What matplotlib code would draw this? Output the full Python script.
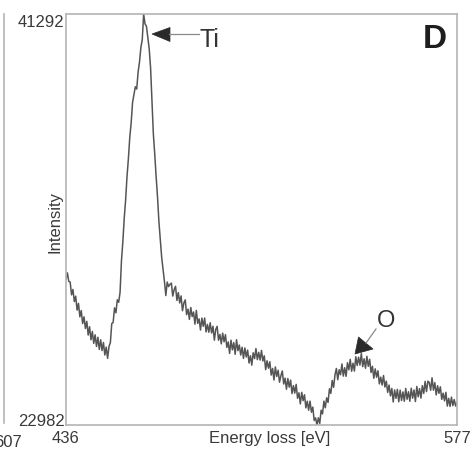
import numpy as np
import matplotlib
matplotlib.use("Agg")
import matplotlib.pyplot as plt
from matplotlib.patches import Polygon
from matplotlib.lines import Line2D

plt.rcParams['font.family'] = ['Liberation Sans', 'DejaVu Sans']

# EELS spectrum: channels every 0.5 eV from 436 to 577 eV
e_start, e_stop, e_step = 436.0, 577.0, 0.5
intensity = [
    29480, 29760, 29380, 29350, 28780, 29020, 28480, 28720, 28100, 28400,
    27800, 28080, 27500, 27800, 27280, 27600, 26990, 27360, 26780, 27150,
    26620, 27000, 26480, 26890, 26350, 26780, 26300, 26660, 26100, 26450,
    25950, 26480, 26650, 27500, 27550, 28200, 27980, 28560, 28450, 28900,
    30300, 31150, 32200, 33000, 34050, 34850, 35800, 36450, 37350, 37700,
    38050, 37950, 38700, 39150, 39800, 40150, 41292, 40850, 40750, 40250,
    39750, 38900, 37450, 35950, 35050, 34050, 33150, 32050, 31250, 30450,
    29900, 29380, 28750, 29350, 29150, 29250,
    29301, 28726, 29015, 29160, 28531, 28880, 28419, 28732, 28073, 28419,
    28555, 27899, 28143, 27685, 28217, 27813, 28015, 27475, 28087, 27511,
    27709, 27211, 27744, 27377, 27748, 27129, 27464, 27115, 27538, 27081,
    27380, 26761, 27240, 27377, 26758, 27019, 26597, 27075, 26689, 27005,
    26439, 26683, 26171, 26761, 26329, 26653, 26131, 26779, 26293, 26545,
    26098, 26446, 25948, 26414, 26010, 26318, 25744, 26069, 25649, 26201,
    25943, 26387, 25895, 26218, 25875, 26304, 25833, 26064, 25449, 25842,
    25515, 25800, 25206, 25501, 24986, 25569, 25144, 25421, 24888, 25183,
    25388, 24808, 25070, 24576, 25054, 24668, 24984, 24382, 24736, 24404,
    24792, 24172, 24416, 23922, 24436, 24068, 24330, 23746, 24044, 23640,
    24046, 23552, 23778, 23184, 23298, 22982, 23302, 23048, 23640, 23476,
    24045, 23750, 24193, 23988, 24593, 24392, 24966, 24658, 25214, 25500,
    25000, 25444, 25222, 25702, 25161, 25533, 25149, 25755, 25443, 25905,
    25377, 25737, 25385, 26023, 25635, 26003, 25653, 26166, 25581, 25932,
    25509, 26041, 25597, 25909, 25321, 25597, 25063, 25483, 25111, 25398,
    24814, 25112, 24762, 25186, 24674, 24936, 24434, 24762, 24280, 24608,
    24007, 24544, 24170, 24570, 24018, 24536, 24073, 24456, 24040, 24610,
    24129, 24463, 24040, 24622, 24178, 24544, 24028, 24700, 24238, 24604,
    24180, 24734, 24388, 24924, 24470, 24934, 24876, 24530, 25084, 24536,
    24870, 24322, 24732, 24392, 24682, 24126, 24400, 24058, 24437, 23826,
    24169, 23809, 24224, 23846, 24116, 23828, 23989,
]
energy = np.arange(e_start, e_stop + e_step / 2, e_step)
assert len(energy) == len(intensity), (len(energy), len(intensity))

x_ticks = [436, 577]
y_ticks = [22982, 41292]

W, H = 471, 452
fig = plt.figure(figsize=(W / 100, H / 100), dpi=100)
ax = fig.add_axes([66 / W, 1 - 426 / H, 391 / W, 411 / H])

ax.plot(energy, intensity, color='#555555', lw=1.1)
ax.set_xlim(x_ticks[0], x_ticks[1])
ax.set_ylim(y_ticks[0], y_ticks[1])

for sp in ax.spines.values():
    sp.set_color('#b4b4b4')
    sp.set_linewidth(1.2)

ax.set_xticks(x_ticks)
ax.set_xticklabels([str(v) for v in x_ticks])
ax.set_yticks(y_ticks)
ax.set_yticklabels([str(v) for v in y_ticks])
ax.tick_params(length=0, labelsize=12, labelcolor='#3a3a3a')
ax.tick_params(axis='x', pad=3.5)
ax.tick_params(axis='y', pad=1)
ylabels = ax.get_yticklabels()
ylabels[0].set_va('baseline')
ylabels[1].set_va('top')

ax.set_xlabel('Energy loss [eV]', fontsize=12, color='#3a3a3a')
ax.xaxis.set_label_coords((270 - 66) / 391, -0.012)
ax.set_ylabel('Intensity', fontsize=12, color='#3a3a3a')
ax.yaxis.set_label_coords(-0.008, 0.496)

# panel letter
ax.text((435 - 66) / 391, (426 - 39.5) / 411, 'D', fontsize=24,
        fontweight='bold', color='#1e1e1e', ha='center', va='center',
        transform=ax.transAxes)


def px(x, y):
    return (x / W, 1 - y / H)


def arrow(tip, base_a, base_b, tail_from, tail_to):
    fig.add_artist(Polygon([px(*tip), px(*base_a), px(*base_b)], closed=True,
                           facecolor='#2a2a2a', edgecolor='#2a2a2a', lw=0.5,
                           transform=fig.transFigure))
    (x0, y0), (x1, y1) = px(*tail_from), px(*tail_to)
    fig.add_artist(Line2D([x0, x1], [y0, y1], color='#8a8a8a', lw=0.9,
                          transform=fig.transFigure))


# Ti edge marker
fig.text(*px(200, 47), 'Ti', fontsize=18, color='#333333', ha='left',
         va='baseline')
arrow((152, 35), (170, 28.5), (170, 42.5), (169, 35), (199, 35))

# O edge marker
fig.text(*px(386, 327), 'O', fontsize=17, color='#333333', ha='center',
         va='baseline')
arrow((355, 355), (358.5, 338), (373, 350), (366, 344), (376, 330))

# edge of the neighbouring panel
fig.add_artist(Line2D([4 / W, 4 / W], [1 - 15 / H, 1 - 424 / H],
                      color='#b4b4b4', lw=1.2, transform=fig.transFigure))
fig.text(*px(22, 447), '607', fontsize=12, color='#3a3a3a', ha='right',
         va='baseline')

fig.savefig('out.png', dpi=100)
